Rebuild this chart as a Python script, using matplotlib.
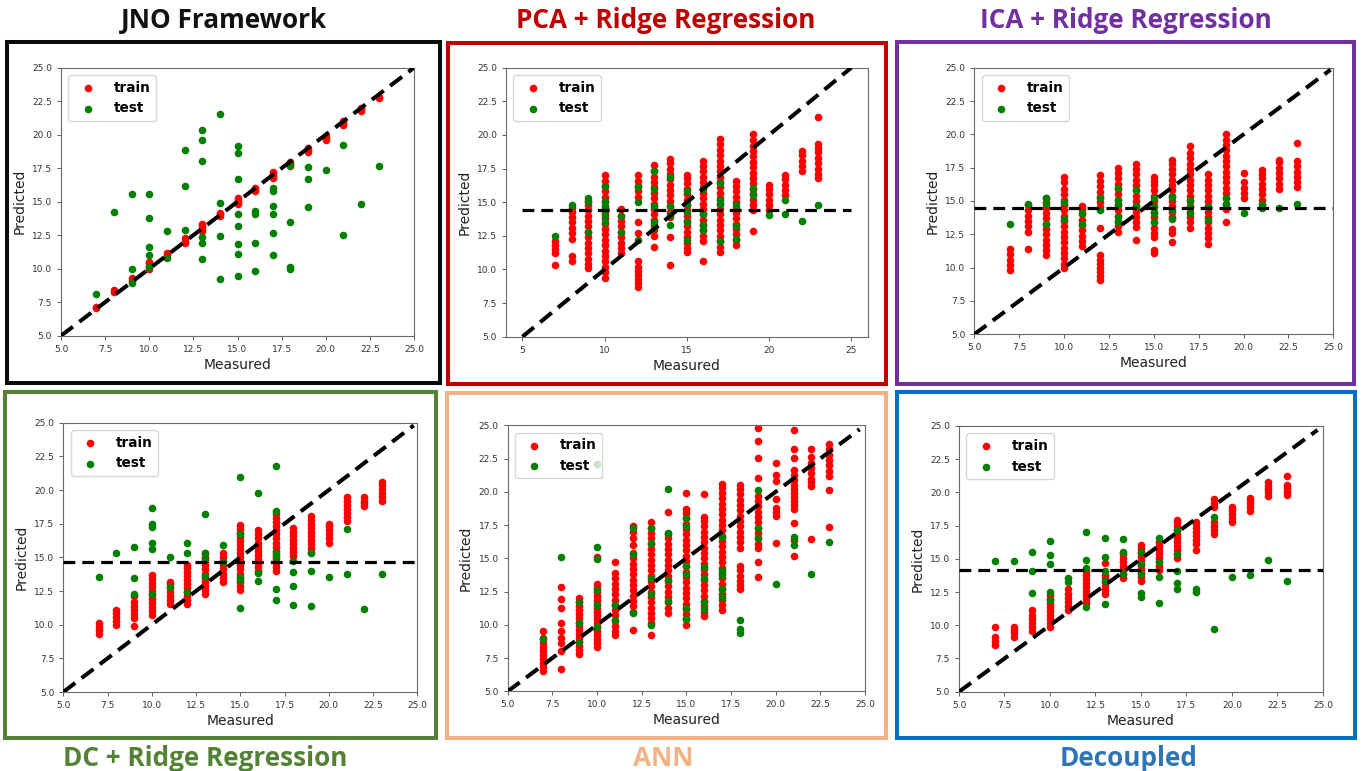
import matplotlib.pyplot as plt
import matplotlib.patches as patches

# --- data: measured value -> list of predicted values ---
jno_train = {7: [7.05, 7.15], 8: [8.25, 8.4], 9: [9.1, 9.3], 10: [10.0, 10.2, 10.4, 10.5],
             11: [11.05, 11.2], 12: [11.95, 12.1, 12.3], 13: [12.8, 13.0, 13.2, 13.3],
             14: [13.9, 14.05, 14.15], 15: [14.8, 15.0, 15.15, 15.3], 16: [15.8, 15.95, 16.05],
             17: [16.75, 16.9, 17.05, 17.2], 18: [17.7, 17.85, 18.0], 19: [18.7, 18.85, 19.0],
             20: [19.6, 19.75, 19.9], 21: [20.7, 20.85, 21.0], 22: [21.75, 21.9, 22.0], 23: [22.75, 22.85]}
jno_test = {7: [8.1], 8: [14.2], 9: [15.55, 10.0, 8.9], 10: [15.6, 13.8, 11.6, 11.0, 10.15],
            11: [12.85, 10.8], 12: [18.85, 16.2, 12.9], 13: [20.35, 19.6, 18.05, 12.35, 11.95, 10.75],
            14: [21.55, 14.9, 12.45, 9.2], 15: [19.15, 18.6, 16.7, 14.05, 13.2, 11.85, 11.1, 9.45],
            16: [14.3, 14.05, 11.95, 9.85], 17: [16.0, 15.8, 14.7, 14.1, 12.7, 11.05],
            18: [17.75, 13.5, 10.15, 10.0], 19: [17.6, 16.7, 14.6], 20: [17.35], 21: [19.2, 12.55],
            22: [14.8], 23: [17.65]}

pca_train = {7: [10.3, 11.2, 11.5, 11.8, 12.1],
             8: [10.6, 11.0, 12.3, 12.7, 13.1, 13.5, 13.9, 14.3, 14.6],
             9: [10.1, 10.4, 10.8, 11.2, 11.6, 12.0, 12.4, 12.8, 13.2, 13.6, 14.0, 14.4, 14.8, 15.1],
             10: [9.4, 9.8, 10.2, 10.6, 11.0, 11.4, 11.8, 12.2, 12.6, 13.0, 13.4, 13.8, 14.2, 14.6,
                  15.0, 15.4, 15.8, 16.2, 16.6, 17.0],
             11: [11.2, 11.6, 12.0, 12.4, 12.8, 13.2, 13.6, 14.0, 14.5],
             12: [8.7, 9.0, 9.3, 9.6, 9.9, 10.2, 10.6, 12.7, 13.5, 15.4, 15.8, 16.2, 16.6, 17.0],
             13: [11.7, 12.5, 12.9, 13.3, 13.7, 14.1, 14.5, 14.9, 15.3, 15.7, 16.1, 16.5, 16.9, 17.3, 17.8],
             14: [10.3, 12.4, 13.9, 14.3, 14.7, 15.1, 15.5, 15.9, 16.3, 16.7, 17.1, 17.5, 17.9, 18.2],
             15: [11.3, 11.6, 12.0, 12.4, 12.8, 13.2, 13.6, 14.0, 14.4, 14.8, 15.2, 15.6, 16.0, 16.4, 16.8, 17.0],
             16: [10.6, 12.1, 12.5, 12.9, 13.3, 13.7, 14.1, 14.5, 14.9, 15.3, 15.7, 16.1, 16.5, 16.9,
                  17.3, 17.7, 18.1],
             17: [11.3, 11.7, 12.1, 12.5, 12.9, 13.3, 13.7, 14.1, 14.5, 14.9, 15.3, 15.7, 16.1, 16.5,
                  16.9, 17.3, 17.7, 18.1, 18.5, 18.9, 19.3, 19.7],
             18: [11.8, 12.2, 12.6, 13.0, 13.4, 13.8, 14.2, 14.6, 15.0, 15.4, 15.8, 16.2, 16.6],
             19: [12.85, 14.4, 14.8, 15.2, 15.6, 16.0, 16.4, 16.8, 17.2, 17.6, 18.0, 18.4, 18.8, 19.2, 19.6, 20.1],
             20: [14.4, 14.8, 15.2, 15.6, 16.0, 16.3],
             21: [15.5, 15.9, 16.3, 16.7, 17.0],
             22: [17.3, 17.7, 18.1, 18.5, 18.8],
             23: [16.8, 17.1, 17.5, 17.9, 18.3, 18.7, 19.0, 19.3, 21.3]}
pca_test = {7: [12.5], 8: [14.8], 9: [15.3, 15.05, 12.8], 10: [16.2, 15.1, 14.75, 14.05, 13.55],
            11: [14.0, 12.75], 12: [16.15, 15.0, 12.2], 13: [17.35, 16.0, 14.75, 13.55, 13.05],
            14: [16.9, 14.75, 14.05, 13.3], 15: [15.8, 14.9, 14.25, 13.55, 12.2],
            16: [16.0, 14.15, 13.3, 12.95], 17: [16.45, 15.2, 14.9, 12.1], 18: [14.8, 13.25, 12.3],
            19: [16.05, 15.55], 20: [14.05], 21: [15.15, 14.15], 22: [13.6], 23: [14.8]}

ica_train = {7: [9.8, 10.2, 10.6, 11.0, 11.4],
             8: [11.4, 12.7, 13.1, 13.5, 13.9, 14.3, 14.7],
             9: [10.95, 11.3, 11.7, 12.1, 12.5, 12.9, 13.3, 13.7, 14.1, 14.5, 14.9, 15.2],
             10: [9.95, 10.3, 10.7, 11.1, 11.5, 11.9, 12.3, 12.7, 13.1, 13.5, 13.9, 14.3, 14.7, 15.1,
                  15.5, 15.9, 16.4, 16.8],
             11: [11.6, 12.0, 12.4, 12.8, 13.2, 13.6, 14.0, 14.4, 14.65],
             12: [9.1, 9.4, 9.7, 10.0, 10.3, 10.6, 10.95, 12.95, 14.55, 14.9, 15.3, 15.7, 16.1, 16.5, 16.95],
             13: [12.7, 13.1, 13.5, 13.9, 14.3, 14.7, 15.1, 15.5, 15.9, 16.3, 16.7, 17.1, 17.5],
             14: [12.1, 13.05, 13.4, 13.8, 14.2, 14.6, 15.0, 15.4, 15.8, 16.2, 16.6, 17.0, 17.4, 17.8],
             15: [11.1, 11.3, 12.3, 12.6, 13.0, 13.4, 13.8, 14.2, 14.6, 15.0, 15.4, 15.8, 16.2, 16.5, 16.8],
             16: [11.95, 12.6, 12.9, 13.8, 14.2, 14.6, 15.0, 15.4, 15.8, 16.2, 16.6, 17.0, 17.4, 17.8, 18.1],
             17: [13.0, 13.4, 13.8, 14.2, 14.6, 15.0, 15.4, 15.8, 16.2, 16.6, 17.0, 17.4, 17.8, 18.2, 18.6, 19.1],
             18: [11.8, 12.2, 12.6, 13.0, 13.4, 13.8, 14.2, 14.6, 15.0, 15.4, 15.8, 16.2, 16.6, 17.0],
             19: [13.45, 14.4, 14.8, 15.2, 15.6, 16.0, 16.4, 16.8, 17.2, 17.6, 18.0, 18.4, 18.8, 19.2, 19.6, 20.0],
             20: [15.2, 15.6, 16.0, 16.4, 17.1],
             21: [14.7, 15.1, 15.5, 15.9, 16.3, 16.7, 17.0, 17.3],
             22: [15.9, 16.3, 16.7, 17.1, 17.5, 17.9, 18.05],
             23: [16.05, 16.4, 16.8, 17.2, 17.6, 18.0, 19.35]}
ica_test = {7: [13.3], 8: [14.8], 9: [15.2, 14.8, 13.25], 10: [14.95, 13.65], 11: [14.1, 13.3],
            12: [15.2, 14.3], 13: [16.0, 15.05, 14.8, 13.8, 13.45], 14: [15.8, 14.6],
            15: [15.2, 14.55, 14.1, 13.45], 16: [15.3, 14.3, 13.65], 17: [15.1, 14.55, 14.1],
            18: [14.55, 13.6], 19: [15.2, 14.8], 20: [14.1], 21: [14.8, 14.45], 22: [14.5], 23: [14.8]}

dc_train = {7: [9.3, 9.6, 9.85, 10.1],
            8: [10.0, 10.3, 10.6, 10.9, 11.1],
            9: [9.9, 10.5, 10.8, 11.1, 11.4, 11.7, 12.1],
            10: [10.7, 11.0, 11.3, 11.6, 11.9, 12.2, 12.5, 12.8, 13.1, 13.4, 13.7],
            11: [11.5, 11.8, 12.1, 12.4, 12.7, 13.0, 13.2],
            12: [11.5, 11.8, 12.1, 12.4, 12.7, 13.0, 13.3, 13.6, 13.9, 14.2, 14.45],
            13: [12.3, 12.6, 12.9, 13.2, 13.5, 13.8, 14.1, 14.4, 14.7, 15.0, 15.3],
            14: [13.2, 13.5, 13.8, 14.1, 14.4, 14.7, 15.0, 15.3],
            15: [12.6, 12.9, 13.2, 13.5, 13.8, 14.1, 14.4, 14.7, 15.0, 15.3, 15.6, 15.9, 16.2, 16.5,
                 16.8, 17.1, 17.4],
            16: [14.0, 14.3, 14.6, 14.9, 15.2, 15.5, 15.8, 16.1, 16.4, 16.7, 17.0],
            17: [14.0, 14.3, 14.6, 14.9, 15.2, 15.5, 15.8, 16.1, 16.4, 16.7, 17.0, 17.3, 17.6, 17.9, 18.2],
            18: [15.1, 15.4, 15.7, 16.0, 16.3, 16.6, 16.9, 17.2],
            19: [15.4, 15.7, 16.0, 16.3, 16.6, 16.9, 17.2, 17.5, 17.8, 18.1],
            20: [16.1, 16.4, 16.7, 17.0, 17.3, 17.5],
            21: [17.7, 18.0, 18.3, 18.6, 18.9, 19.2, 19.5],
            22: [18.8, 19.0, 19.2, 19.45],
            23: [19.2, 19.5, 19.8, 20.1, 20.4, 20.6]}
dc_test = {7: [13.55], 8: [15.35], 9: [15.8, 13.5, 12.3], 10: [18.65, 17.45, 17.25, 16.1, 15.65, 12.25],
           11: [15.0, 12.8], 12: [16.1, 15.35, 12.45], 13: [18.25, 15.3, 14.9, 13.65], 14: [15.95, 14.65],
           15: [21.0, 16.75, 13.55, 13.3, 11.25], 16: [19.8, 13.85, 13.25],
           17: [21.8, 18.45, 15.35, 15.05, 12.65, 11.85], 18: [14.7, 13.9, 12.85, 11.45],
           19: [15.35, 13.95, 11.4], 20: [13.55], 21: [17.1, 13.8], 22: [11.15], 23: [13.8]}

ann_train = {7: [6.5, 6.8, 7.1, 7.4, 7.7, 8.0, 8.3, 8.6, 9.0, 9.5],
             8: [6.65, 8.0, 8.6, 9.0, 9.55, 10.1, 11.3, 11.95, 12.85],
             9: [7.8, 8.1, 8.4, 8.7, 9.0, 9.3, 9.6, 9.9, 10.2, 10.5, 10.8, 11.1, 11.4, 11.7, 12.0],
             10: [8.3, 8.6, 8.9, 9.2, 9.5, 9.8, 10.1, 10.4, 10.7, 11.0, 11.3, 11.6, 11.9, 12.2, 12.5,
                  12.8, 13.1, 15.1],
             11: [9.2, 9.5, 9.9, 10.3, 10.7, 11.1, 11.5, 11.9, 12.3, 12.7, 13.1, 13.5, 13.9, 14.7],
             12: [9.6, 11.0, 11.4, 11.8, 12.2, 12.6, 13.0, 13.4, 13.8, 14.2, 14.6, 15.0, 15.4, 16.0,
                  16.5, 17.0, 17.4],
             13: [9.2, 10.1, 10.5, 10.9, 11.3, 11.7, 12.1, 12.5, 12.9, 13.3, 13.7, 14.1, 14.5, 14.9,
                  15.3, 15.7, 16.1, 16.5, 16.9, 17.3, 17.7],
             14: [10.9, 11.3, 11.7, 12.1, 12.5, 12.9, 13.3, 13.7, 14.1, 14.5, 14.9, 15.3, 15.7, 16.1,
                  16.5, 16.85, 18.5],
             15: [9.95, 10.4, 10.8, 11.2, 11.6, 12.0, 12.4, 12.8, 13.2, 13.6, 14.0, 14.4, 14.8, 15.2,
                  15.6, 16.0, 16.4, 16.8, 17.2, 17.6, 18.0, 18.4, 18.7, 19.9],
             16: [10.65, 11.0, 11.4, 11.8, 12.2, 12.6, 13.0, 13.4, 13.8, 14.2, 14.6, 15.0, 15.4, 15.8,
                  16.2, 16.6, 17.0, 17.4, 17.8, 18.1, 19.85],
             17: [11.1, 11.5, 11.9, 12.3, 12.7, 13.1, 13.5, 13.9, 14.3, 14.7, 15.1, 15.5, 15.9, 16.3,
                  16.7, 17.1, 17.5, 17.9, 18.3, 18.7, 19.1, 19.5, 19.9, 20.3, 20.55],
             18: [12.7, 13.0, 13.3, 13.7, 14.1, 14.4, 15.8, 16.2, 16.6, 17.0, 17.4, 17.8, 18.2, 18.6,
                  19.0, 19.4, 19.8, 20.2, 20.5],
             19: [13.6, 14.7, 15.75, 16.1, 16.5, 16.9, 17.3, 17.7, 18.1, 18.5, 18.9, 19.3, 19.65,
                  21.05, 22.55, 23.8, 24.8],
             20: [16.15, 18.15, 18.45, 18.75, 19.45, 20.8, 21.3, 22.2],
             21: [15.2, 16.35, 17.65, 18.7, 19.0, 19.3, 19.6, 19.9, 20.2, 20.5, 20.9, 21.3, 21.65,
                  22.55, 23.25, 24.65],
             22: [16.45, 20.4, 20.7, 21.0, 21.4, 21.8, 22.2, 22.6, 23.2],
             23: [17.35, 20.15, 21.2, 21.6, 22.0, 22.4, 22.8, 23.2, 23.6]}
ann_test = {7: [8.9], 8: [15.1], 9: [11.7, 10.1, 8.7], 10: [22.1, 15.85, 14.95, 12.6, 11.5, 9.85],
            11: [11.5, 10.35], 12: [17.3, 15.3, 10.85], 13: [17.3, 16.15, 13.5, 12.3, 9.95],
            14: [20.2, 16.9, 13.4, 11.8], 15: [18.05, 17.4, 14.4, 13.85, 11.3, 10.4],
            16: [14.35, 13.5, 11.7, 11.2], 17: [16.6, 14.1, 13.75, 12.7, 12.1],
            18: [10.35, 9.65, 9.4], 19: [20.15, 17.25, 16.5], 20: [13.05], 21: [16.6, 16.0],
            22: [13.85], 23: [16.2]}

dec_train = {7: [8.5, 8.8, 9.1, 9.9],
             8: [9.15, 9.4, 9.65, 9.9],
             9: [9.6, 9.9, 10.2, 10.5, 10.8, 11.15],
             10: [9.9, 10.2, 10.5, 10.8, 11.1, 11.4, 11.7, 12.0, 12.3],
             11: [11.15, 11.45, 11.75, 12.05, 12.35, 12.75],
             12: [11.65, 11.95, 12.25, 12.55, 12.85, 13.15, 13.45, 13.75, 14.05],
             13: [12.35, 12.65, 12.95, 13.25, 13.55, 13.8, 14.7],
             14: [13.55, 13.85, 14.15, 14.45, 14.75, 15.05, 15.35],
             15: [13.35, 13.65, 13.95, 14.25, 14.55, 14.85, 15.15, 15.45, 15.75, 16.05],
             16: [14.15, 14.45, 14.75, 15.05, 15.35, 15.65, 15.95, 16.3],
             17: [15.05, 15.35, 15.65, 15.95, 16.25, 16.55, 16.85, 17.15, 17.45, 17.75, 17.95],
             18: [15.65, 16.15, 16.45, 16.75, 17.05, 17.35, 17.6, 17.8],
             19: [16.85, 17.15, 17.45, 17.8, 18.9, 19.2, 19.5],
             20: [17.75, 18.05, 18.35, 18.65, 18.9],
             21: [18.6, 18.9, 19.2, 19.4, 19.6],
             22: [19.7, 20.0, 20.25, 20.5, 20.75],
             23: [19.8, 20.05, 20.3, 20.55, 21.2]}
dec_test = {7: [14.85], 8: [14.85], 9: [15.5, 14.05, 12.45], 10: [16.35, 15.3, 14.6, 12.5, 11.9],
            11: [13.55, 13.25], 12: [17.0, 14.95, 14.3, 11.4], 13: [16.55, 15.15, 14.05, 13.35, 11.6],
            14: [16.5, 15.5, 13.85], 15: [15.5, 14.6, 13.85, 12.45, 12.15], 16: [16.55, 14.8, 13.65, 11.7],
            17: [17.2, 15.35, 14.1, 13.2, 12.75], 18: [12.75, 12.5], 19: [18.15, 9.75], 20: [13.6],
            21: [13.75], 22: [14.95], 23: [13.35]}

# mean-prediction level drawn as horizontal dashed line (None = not drawn)
pca_mean = 14.42
ica_mean = 14.5
dc_mean = 14.68
dec_mean = 14.16

titles = ['JNO Framework', 'PCA + Ridge Regression', 'ICA + Ridge Regression',
          'DC + Ridge Regression', 'ANN', 'Decoupled']
title_colors = ['#111111', '#C00000', '#7030A0', '#548235', '#F4B183', '#2E75B6']
border_colors = ['#0a0a0a', '#C00000', '#7030A0', '#548235', '#F4B183', '#0070C0']

W, H = 1365, 771
fig = plt.figure(figsize=(W / 100, H / 100), dpi=100)


def px_axes(left, top, right, bottom):
    return fig.add_axes([left / W, 1 - bottom / H, (right - left) / W, (bottom - top) / H])


def flatten(groups):
    xs, ys = [], []
    for m, vals in groups.items():
        xs += [m] * len(vals)
        ys += vals
    return xs, ys


def draw_panel(ax, train, test, mean_level, diag_end, int_ticks=False):
    tx, ty = flatten(train)
    vx, vy = flatten(test)
    ax.scatter(tx, ty, s=30, c='red', linewidths=0, label='train', zorder=2)
    ax.scatter(vx, vy, s=30, c='green', linewidths=0, label='test', zorder=3)
    ax.plot([5, diag_end], [5, diag_end], color='black', lw=2.9,
            linestyle=(0, (3.7, 2.0)), zorder=4)
    if mean_level is not None:
        ax.plot([5, 25], [mean_level, mean_level], color='black', lw=2.3,
                linestyle=(0, (3.7, 2.2)), zorder=4)
    ax.set_ylim(5, 25)
    if int_ticks:
        ax.set_xlim(4, 26)
        ax.set_xticks([5, 10, 15, 20, 25])
    else:
        ax.set_xlim(5, 25)
        ax.set_xticks([5, 7.5, 10, 12.5, 15, 17.5, 20, 22.5, 25])
    ax.set_yticks([5, 7.5, 10, 12.5, 15, 17.5, 20, 22.5, 25])
    ax.tick_params(labelsize=6.5, labelcolor='#333333', length=3, width=0.6, color='#444444')
    for sp in ax.spines.values():
        sp.set_color('#6a6a6a')
        sp.set_linewidth(0.8)
    ax.set_xlabel('Measured', fontsize=10, color='#222222', labelpad=3)
    ax.set_ylabel('Predicted', fontsize=10, color='#222222', labelpad=4)
    leg = ax.legend(loc='upper left', scatterpoints=1, prop={'weight': 'bold', 'size': 9.8},
                    borderaxespad=0.55, handletextpad=0.9)
    leg.get_frame().set_edgecolor('#cccccc')


axes_px = [(61, 67.7, 414, 335.7), (506, 67.7, 867.7, 336.7), (974.3, 67.7, 1333.3, 334.3),
           (63.3, 422.7, 417.3, 692), (507.7, 425.3, 865, 691.3), (959, 426, 1323, 691.7)]
panels = [(jno_train, jno_test, None, 25, False),
          (pca_train, pca_test, pca_mean, 25, True),
          (ica_train, ica_test, ica_mean, 24.85, False),
          (dc_train, dc_test, dc_mean, 24.8, False),
          (ann_train, ann_test, None, 24.7, False),
          (dec_train, dec_test, dec_mean, 24.7, False)]

for box, (train, test, mean_level, diag_end, int_ticks) in zip(axes_px, panels):
    ax = px_axes(*box)
    draw_panel(ax, train, test, mean_level, diag_end, int_ticks)

# coloured frames around each panel (pixel boxes: left, top, right, bottom)
frames = [(7, 42, 440, 383), (448, 43, 886, 384), (897, 42, 1354, 384),
          (5, 392, 436, 738), (447, 393, 886, 738), (897, 392, 1355, 738)]
for (l, t, r, b), col in zip(frames, border_colors):
    fig.patches.append(patches.Rectangle((l / W, 1 - b / H), (r - l) / W, (b - t) / H,
                                         transform=fig.transFigure, fill=False,
                                         edgecolor=col, linewidth=2.9))

title_pos = [(224, 28), (666, 28), (1126, 28), (205, 766), (663, 766), (1129, 766)]
for (x, y), txt, col in zip(title_pos, titles, title_colors):
    fig.text(x / W, 1 - y / H, txt, ha='center', va='baseline', color=col,
             fontsize=18.8, fontweight='bold', family='Open Sans')

fig.savefig('out.png', dpi=100)
